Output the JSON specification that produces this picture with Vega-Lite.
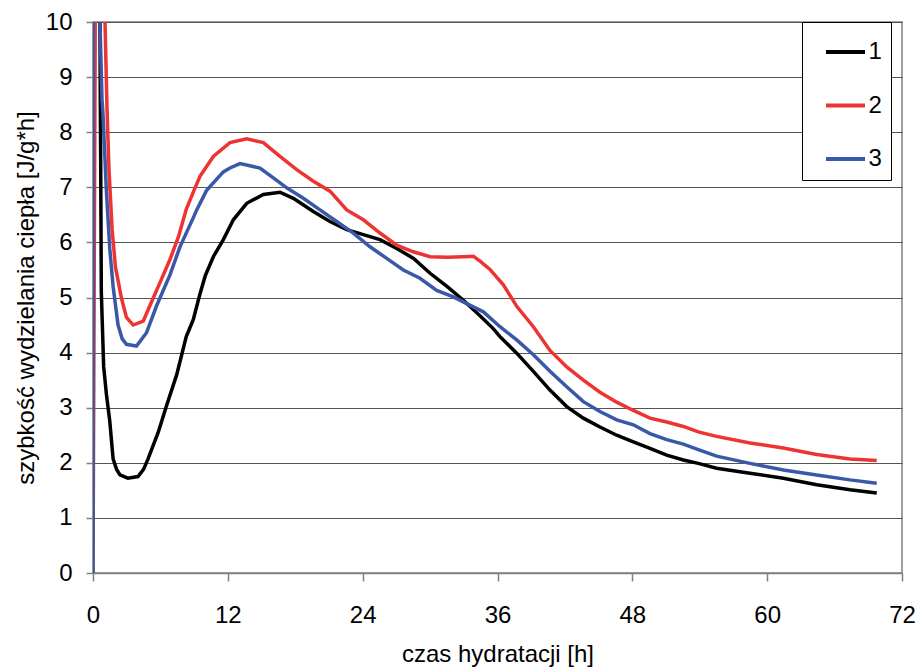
{
  "$schema": "https://vega.github.io/schema/vega-lite/v6.json",
  "width": 809,
  "height": 551,
  "autosize": {"type": "none"},
  "padding": {"left": 93, "top": 22, "right": 15, "bottom": 95},
  "background": "white",
  "config": {
    "font": "Liberation Sans",
    "view": {"stroke": "#808080", "strokeWidth": 1.5},
    "axis": {
      "domainColor": "#808080",
      "domainWidth": 1.5,
      "tickColor": "#808080",
      "tickWidth": 1.5,
      "labelFontSize": 24,
      "labelColor": "black",
      "labelFont": "Liberation Sans",
      "titleFont": "Liberation Sans",
      "titleFontSize": 24,
      "titleFontWeight": "normal",
      "titleColor": "black",
      "labelOverlap": false,
      "labelFlush": false,
      "labelBound": false
    }
  },
  "data": {
    "values": [
      {"t": 0.55, "v": 14, "s": "1"},
      {"t": 0.62, "v": 10, "s": "1"},
      {"t": 0.65, "v": 8.6, "s": "1"},
      {"t": 0.68, "v": 7.6, "s": "1"},
      {"t": 0.74, "v": 5.1, "s": "1"},
      {"t": 0.95, "v": 3.74, "s": "1"},
      {"t": 1.19, "v": 3.25, "s": "1"},
      {"t": 1.49, "v": 2.76, "s": "1"},
      {"t": 1.79, "v": 2.07, "s": "1"},
      {"t": 2.1, "v": 1.88, "s": "1"},
      {"t": 2.4, "v": 1.78, "s": "1"},
      {"t": 3.1, "v": 1.72, "s": "1"},
      {"t": 4.0, "v": 1.75, "s": "1"},
      {"t": 4.5, "v": 1.88, "s": "1"},
      {"t": 4.9, "v": 2.07, "s": "1"},
      {"t": 5.8, "v": 2.55, "s": "1"},
      {"t": 6.55, "v": 3.04, "s": "1"},
      {"t": 7.45, "v": 3.6, "s": "1"},
      {"t": 8.3, "v": 4.29, "s": "1"},
      {"t": 8.93, "v": 4.6, "s": "1"},
      {"t": 9.5, "v": 5.05, "s": "1"},
      {"t": 10.0, "v": 5.4, "s": "1"},
      {"t": 10.71, "v": 5.74, "s": "1"},
      {"t": 11.6, "v": 6.05, "s": "1"},
      {"t": 12.49, "v": 6.41, "s": "1"},
      {"t": 13.68, "v": 6.71, "s": "1"},
      {"t": 15.16, "v": 6.87, "s": "1"},
      {"t": 16.64, "v": 6.91, "s": "1"},
      {"t": 17.83, "v": 6.8, "s": "1"},
      {"t": 19.61, "v": 6.56, "s": "1"},
      {"t": 21.09, "v": 6.38, "s": "1"},
      {"t": 22.58, "v": 6.23, "s": "1"},
      {"t": 24.06, "v": 6.14, "s": "1"},
      {"t": 25.54, "v": 6.05, "s": "1"},
      {"t": 27.03, "v": 5.89, "s": "1"},
      {"t": 28.53, "v": 5.71, "s": "1"},
      {"t": 30.0, "v": 5.44, "s": "1"},
      {"t": 31.5, "v": 5.2, "s": "1"},
      {"t": 32.96, "v": 4.95, "s": "1"},
      {"t": 34.44, "v": 4.67, "s": "1"},
      {"t": 35.6, "v": 4.44, "s": "1"},
      {"t": 36.22, "v": 4.29, "s": "1"},
      {"t": 37.71, "v": 3.99, "s": "1"},
      {"t": 39.19, "v": 3.66, "s": "1"},
      {"t": 40.67, "v": 3.32, "s": "1"},
      {"t": 42.16, "v": 3.02, "s": "1"},
      {"t": 43.64, "v": 2.81, "s": "1"},
      {"t": 45.12, "v": 2.65, "s": "1"},
      {"t": 46.61, "v": 2.5, "s": "1"},
      {"t": 48.09, "v": 2.38, "s": "1"},
      {"t": 49.57, "v": 2.26, "s": "1"},
      {"t": 51.06, "v": 2.14, "s": "1"},
      {"t": 52.54, "v": 2.05, "s": "1"},
      {"t": 53.87, "v": 1.99, "s": "1"},
      {"t": 55.5, "v": 1.9, "s": "1"},
      {"t": 58.47, "v": 1.81, "s": "1"},
      {"t": 61.44, "v": 1.72, "s": "1"},
      {"t": 64.41, "v": 1.6, "s": "1"},
      {"t": 67.37, "v": 1.51, "s": "1"},
      {"t": 69.75, "v": 1.45, "s": "1"},

      {"t": 0.0, "v": 0, "s": "2"},
      {"t": 0.28, "v": 14, "s": "2"},
      {"t": 0.95, "v": 14, "s": "2"},
      {"t": 1.07, "v": 10, "s": "2"},
      {"t": 1.25, "v": 8.4, "s": "2"},
      {"t": 1.43, "v": 7.29, "s": "2"},
      {"t": 1.7, "v": 6.24, "s": "2"},
      {"t": 2.0, "v": 5.55, "s": "2"},
      {"t": 2.53, "v": 4.99, "s": "2"},
      {"t": 2.98, "v": 4.64, "s": "2"},
      {"t": 3.57, "v": 4.5, "s": "2"},
      {"t": 4.47, "v": 4.57, "s": "2"},
      {"t": 5.06, "v": 4.85, "s": "2"},
      {"t": 5.96, "v": 5.27, "s": "2"},
      {"t": 6.85, "v": 5.69, "s": "2"},
      {"t": 7.6, "v": 6.1, "s": "2"},
      {"t": 8.3, "v": 6.6, "s": "2"},
      {"t": 9.0, "v": 6.95, "s": "2"},
      {"t": 9.52, "v": 7.2, "s": "2"},
      {"t": 10.71, "v": 7.56, "s": "2"},
      {"t": 12.19, "v": 7.81, "s": "2"},
      {"t": 13.68, "v": 7.88, "s": "2"},
      {"t": 15.16, "v": 7.81, "s": "2"},
      {"t": 16.64, "v": 7.56, "s": "2"},
      {"t": 18.13, "v": 7.32, "s": "2"},
      {"t": 19.61, "v": 7.11, "s": "2"},
      {"t": 21.09, "v": 6.93, "s": "2"},
      {"t": 22.58, "v": 6.59, "s": "2"},
      {"t": 24.06, "v": 6.41, "s": "2"},
      {"t": 25.54, "v": 6.17, "s": "2"},
      {"t": 27.03, "v": 5.95, "s": "2"},
      {"t": 28.5, "v": 5.83, "s": "2"},
      {"t": 30.0, "v": 5.74, "s": "2"},
      {"t": 31.5, "v": 5.73, "s": "2"},
      {"t": 32.96, "v": 5.74, "s": "2"},
      {"t": 33.85, "v": 5.75, "s": "2"},
      {"t": 34.5, "v": 5.65, "s": "2"},
      {"t": 35.33, "v": 5.51, "s": "2"},
      {"t": 36.52, "v": 5.23, "s": "2"},
      {"t": 37.71, "v": 4.84, "s": "2"},
      {"t": 39.19, "v": 4.47, "s": "2"},
      {"t": 40.67, "v": 4.04, "s": "2"},
      {"t": 42.16, "v": 3.74, "s": "2"},
      {"t": 43.64, "v": 3.5, "s": "2"},
      {"t": 45.12, "v": 3.28, "s": "2"},
      {"t": 46.61, "v": 3.1, "s": "2"},
      {"t": 48.09, "v": 2.95, "s": "2"},
      {"t": 49.57, "v": 2.81, "s": "2"},
      {"t": 51.06, "v": 2.74, "s": "2"},
      {"t": 52.54, "v": 2.66, "s": "2"},
      {"t": 53.87, "v": 2.56, "s": "2"},
      {"t": 55.5, "v": 2.48, "s": "2"},
      {"t": 58.47, "v": 2.36, "s": "2"},
      {"t": 61.44, "v": 2.27, "s": "2"},
      {"t": 64.41, "v": 2.15, "s": "2"},
      {"t": 67.37, "v": 2.07, "s": "2"},
      {"t": 69.75, "v": 2.04, "s": "2"},

      {"t": 0.0, "v": 0, "s": "3"},
      {"t": 0.03, "v": 14, "s": "3"},
      {"t": 0.55, "v": 14, "s": "3"},
      {"t": 0.62, "v": 10, "s": "3"},
      {"t": 0.8, "v": 8.6, "s": "3"},
      {"t": 0.89, "v": 8.33, "s": "3"},
      {"t": 1.19, "v": 6.94, "s": "3"},
      {"t": 1.49, "v": 5.89, "s": "3"},
      {"t": 1.79, "v": 5.2, "s": "3"},
      {"t": 2.23, "v": 4.5, "s": "3"},
      {"t": 2.6, "v": 4.25, "s": "3"},
      {"t": 2.98, "v": 4.15, "s": "3"},
      {"t": 3.87, "v": 4.12, "s": "3"},
      {"t": 4.76, "v": 4.36, "s": "3"},
      {"t": 5.66, "v": 4.85, "s": "3"},
      {"t": 6.85, "v": 5.41, "s": "3"},
      {"t": 7.74, "v": 5.92, "s": "3"},
      {"t": 8.93, "v": 6.45, "s": "3"},
      {"t": 9.23, "v": 6.59, "s": "3"},
      {"t": 10.1, "v": 6.94, "s": "3"},
      {"t": 10.71, "v": 7.08, "s": "3"},
      {"t": 11.6, "v": 7.28, "s": "3"},
      {"t": 12.19, "v": 7.35, "s": "3"},
      {"t": 13.08, "v": 7.43, "s": "3"},
      {"t": 14.86, "v": 7.35, "s": "3"},
      {"t": 16.05, "v": 7.17, "s": "3"},
      {"t": 17.24, "v": 6.99, "s": "3"},
      {"t": 18.72, "v": 6.8, "s": "3"},
      {"t": 20.2, "v": 6.59, "s": "3"},
      {"t": 21.69, "v": 6.38, "s": "3"},
      {"t": 23.17, "v": 6.17, "s": "3"},
      {"t": 24.65, "v": 5.92, "s": "3"},
      {"t": 26.14, "v": 5.71, "s": "3"},
      {"t": 27.62, "v": 5.5, "s": "3"},
      {"t": 29.1, "v": 5.35, "s": "3"},
      {"t": 30.59, "v": 5.13, "s": "3"},
      {"t": 32.07, "v": 5.01, "s": "3"},
      {"t": 33.26, "v": 4.89, "s": "3"},
      {"t": 34.74, "v": 4.74, "s": "3"},
      {"t": 36.22, "v": 4.47, "s": "3"},
      {"t": 37.71, "v": 4.23, "s": "3"},
      {"t": 39.19, "v": 3.96, "s": "3"},
      {"t": 40.67, "v": 3.66, "s": "3"},
      {"t": 42.16, "v": 3.38, "s": "3"},
      {"t": 43.64, "v": 3.11, "s": "3"},
      {"t": 45.12, "v": 2.93, "s": "3"},
      {"t": 46.61, "v": 2.78, "s": "3"},
      {"t": 48.09, "v": 2.69, "s": "3"},
      {"t": 49.57, "v": 2.53, "s": "3"},
      {"t": 51.06, "v": 2.42, "s": "3"},
      {"t": 52.54, "v": 2.34, "s": "3"},
      {"t": 53.87, "v": 2.24, "s": "3"},
      {"t": 55.5, "v": 2.12, "s": "3"},
      {"t": 58.47, "v": 1.99, "s": "3"},
      {"t": 61.44, "v": 1.87, "s": "3"},
      {"t": 64.41, "v": 1.78, "s": "3"},
      {"t": 67.37, "v": 1.69, "s": "3"},
      {"t": 69.75, "v": 1.63, "s": "3"}
    ]
  },
  "mark": {"type": "line", "strokeWidth": 3.5, "clip": true},
  "encoding": {
    "x": {
      "field": "t",
      "type": "quantitative",
      "scale": {"domain": [0, 72], "nice": false, "zero": false},
      "axis": {
        "values": [0, 12, 24, 36, 48, 60, 72],
        "grid": false,
        "tickSize": 8,
        "labelPadding": 22,
        "title": "czas hydratacji [h]",
        "titleY": 88,
        "titleBaseline": "alphabetic"
      }
    },
    "y": {
      "field": "v",
      "type": "quantitative",
      "scale": {"domain": [0, 10], "nice": false},
      "axis": {
        "values": [0, 1, 2, 3, 4, 5, 6, 7, 8, 9, 10],
        "grid": true,
        "gridColor": "#555555",
        "gridWidth": 1.2,
        "tickSize": 7,
        "labelPadding": 14,
        "title": "szybkość wydzielania ciepła [J/g*h]",
        "titleX": -60,
        "titleY": 275.5,
        "titleBaseline": "alphabetic",
        "titleAngle": -90,
        "titleAlign": "center"
      }
    },
    "color": {
      "field": "s",
      "type": "nominal",
      "scale": {"domain": ["1", "2", "3"], "range": ["#000000", "#ee3333", "#3a58a8"]},
      "legend": {
        "title": null,
        "orient": "none",
        "legendX": 709,
        "legendY": 0,
        "symbolType": "stroke",
        "symbolSize": 1521,
        "symbolStrokeWidth": 4,
        "symbolOffset": 13.5,
        "labelOffset": 1.5,
        "labelFontSize": 24,
        "labelColor": "black",
        "labelFont": "Liberation Sans",
        "rowPadding": 19.5,
        "padding": 8.5,
        "strokeColor": "black",
        "fillColor": "white",
        "labelExpr": "datum.label + '  '"
      }
    }
  }
}
